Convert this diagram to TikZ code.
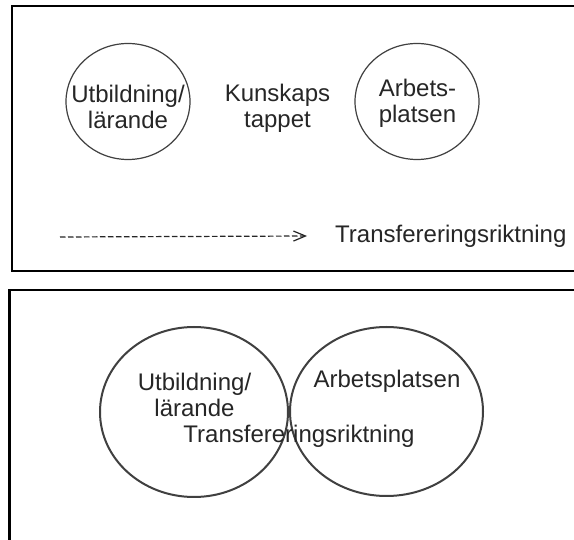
\documentclass[tikz,border=0pt]{standalone}
\usepackage{fontspec}
\setmainfont{Liberation Sans}
\usetikzlibrary{shapes.geometric,arrows.meta}
\begin{document}
\begin{tikzpicture}[x=1pt,y=-1pt,
  txt/.style={font=\fontsize{24}{26}\selectfont, text=black!85, inner sep=0pt, align=center, anchor=base},
  ring/.style={draw=black!75, ellipse, inner sep=0pt, line width=1.2pt},
  ringb/.style={draw=black!75, ellipse, inner sep=0pt, line width=2pt},
  frame/.style={draw=black, line width=2pt}]
\useasboundingbox (0,0) rectangle (574,540);
\fill[white] (0,0) rectangle (574,540);
% top panel
\draw[frame] (576,6) -- (12,6) -- (12,271) -- (576,271);
\node[ring, minimum width=124pt, minimum height=116pt] (c1) at (128,101.5) {};
\node[ring, minimum width=124pt, minimum height=116pt] (c2) at (417,101.5) {};
\node[txt] (t1) at (128,129) {Utbildning/\\lärande};
\node[txt] (t2) at (277.5,128) {Kunskaps\\tappet};
\node[txt] (t3) at (417.5,123) {Arbets-\\platsen};
\node[txt, anchor=base west] (t4) at (335,243) {Transfereringsriktning};
\coordinate (ds) at (60,237);
\coordinate (de) at (307,236);
\draw[dash pattern=on 5.5pt off 2.5pt, line width=1.2pt, draw=black!85,
  -{Straight Barb[length=12pt,width=10pt]}] (ds) -- (de);
% bottom panel
\draw[frame, line width=2.5pt] (576,290) -- (9.5,290) -- (9.5,542);
\node[ringb, minimum width=188pt, minimum height=170pt] (b1) at (194,412) {};
\node[ringb, minimum width=193pt, minimum height=169pt] (b2) at (386.5,411.5) {};
\node[txt] (u1) at (194.5,417) {Utbildning/\\lärande};
\node[txt] (u2) at (387,388) {Arbetsplatsen};
\node[txt] (u3) at (299,443) {Transfereringsriktning};
\end{tikzpicture}
\end{document}
